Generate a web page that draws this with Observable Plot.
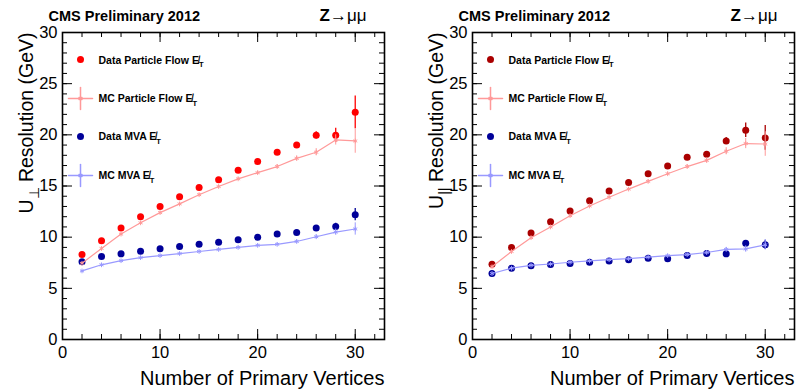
<!DOCTYPE html>
<html><head><meta charset="utf-8">
<script src="https://cdn.jsdelivr.net/npm/d3@7"></script>
<script src="https://cdn.jsdelivr.net/npm/@observablehq/plot@0.6"></script>
<style>
body{margin:0;background:#fff}
#wrap{display:flex;width:797px;height:392px;overflow:hidden}
svg{display:block;overflow:visible}
</style></head>
<body><div id="wrap"></div>
<script>
// ---------------- data ----------------
const nPV = [2,4,6,8,10,12,14,16,18,20,22,24,26,28,30];

// U_perp (left panel)
const dataPF_perp     = [8.3,9.65,10.9,12.0,13.0,13.95,14.85,15.6,16.55,17.4,18.3,19.0,19.95,19.95,22.2];
const dataPF_perp_err = [0.1,0.1,0.1,0.1,0.1,0.1,0.1,0.1,0.12,0.15,0.15,0.2,0.35,0.7,1.6];
const mcPF_perp       = [7.45,8.9,10.3,11.4,12.4,13.25,14.15,14.95,15.7,16.3,16.9,17.7,18.3,19.5,19.4];
const mcPF_perp_err   = [0.1,0.1,0.1,0.1,0.1,0.1,0.1,0.12,0.15,0.15,0.2,0.25,0.35,0.5,1.2];
const dataMVA_perp     = [7.6,8.1,8.37,8.63,8.86,9.09,9.3,9.5,9.74,10.0,10.3,10.46,10.9,11.05,12.2];
const dataMVA_perp_err = [0.05,0.05,0.05,0.05,0.05,0.05,0.05,0.05,0.07,0.08,0.1,0.12,0.15,0.3,0.6];
const mcMVA_perp       = [6.7,7.3,7.7,8.0,8.2,8.4,8.6,8.8,9.0,9.2,9.3,9.58,10.04,10.5,10.8];
const mcMVA_perp_err   = [0.05,0.05,0.05,0.05,0.05,0.05,0.05,0.06,0.08,0.1,0.12,0.15,0.2,0.3,0.6];

// U_par (right panel)
const dataPF_par     = [7.35,9.0,10.4,11.5,12.55,13.55,14.5,15.35,16.2,16.95,17.8,18.1,19.4,20.45,19.7];
const dataPF_par_err = [0.1,0.1,0.1,0.1,0.1,0.1,0.1,0.1,0.12,0.15,0.15,0.2,0.35,0.7,1.2];
const mcPF_par       = [7.1,8.6,9.95,11.0,12.1,13.05,13.9,14.7,15.45,16.2,16.9,17.5,18.4,19.15,19.1];
const mcPF_par_err   = [0.1,0.1,0.1,0.1,0.1,0.1,0.1,0.12,0.15,0.15,0.2,0.25,0.35,0.5,1.2];
const dataMVA_par     = [6.45,6.97,7.2,7.33,7.42,7.55,7.68,7.8,7.94,7.9,8.2,8.4,8.37,9.4,9.25];
const dataMVA_par_err = [0.05,0.05,0.05,0.05,0.05,0.05,0.05,0.05,0.07,0.08,0.1,0.12,0.15,0.25,0.45];
const mcMVA_par       = [6.45,6.97,7.25,7.38,7.55,7.68,7.8,7.9,8.05,8.2,8.3,8.5,8.8,8.85,9.25];
const mcMVA_par_err   = [0.05,0.05,0.05,0.05,0.05,0.05,0.05,0.06,0.08,0.1,0.12,0.15,0.2,0.3,0.5];

// axes / text
const xDomain = [0, 33];
const yDomain = [0, 30];
const xMajor = [0, 10, 20, 30];
const xMinor = [0,2,4,6,8,10,12,14,16,18,20,22,24,26,28,30,32];
const yMajor = [0, 5, 10, 15, 20, 25, 30];
const yMinor = d3.range(0, 31, 1);
const xTitle = "Number of Primary Vertices";
const yTitlePerp = "U_{⊥} Resolution (GeV)";
const yTitlePar = "U_{||} Resolution (GeV)";
const cmsLabel = "CMS Preliminary 2012";
const channelLabel = "#bf{Z}→μμ";
const legendLabels = [
  "Data Particle Flow #slash{E}_{T}",
  "MC Particle Flow #slash{E}_{T}",
  "Data MVA #slash{E}_{T}",
  "MC MVA #slash{E}_{T}"
];

// ---------------- drawing ----------------
const H = 392, MT = 32, MB = 53;
const FONT = "'Liberation Sans', Arial, Helvetica, sans-serif";
const lineShape = {draw(ctx, l) { ctx.moveTo(0, 0); ctx.lineTo(0, -l); }};

function rows(vals, errs) { return nPV.map((n, i) => ({n, v: vals[i], e: errs[i]})); }

function panel(o) {
  const fw = o.width - o.ml - o.mr, fh = H - MT - MB;
  const dPF = rows(o.dPF, o.dPFe), mPF = rows(o.mPF, o.mPFe);
  const dMVA = rows(o.dMVA, o.dMVAe), mMVA = rows(o.mMVA, o.mMVAe);
  const marks = [
    // minor / major ticks on all four sides (inward)
    Plot.tickY(yMinor, {y: d => d, insetRight: fw - 5, stroke: "black"}),
    Plot.tickY(yMinor, {y: d => d, insetLeft: fw - 5, stroke: "black"}),
    Plot.tickY(yMajor, {y: d => d, insetRight: fw - 10, stroke: "black"}),
    Plot.tickY(yMajor, {y: d => d, insetLeft: fw - 10, stroke: "black"}),
    Plot.tickX(xMinor, {x: d => d, insetTop: fh - 5, stroke: "black"}),
    Plot.tickX(xMinor, {x: d => d, insetBottom: fh - 5, stroke: "black"}),
    Plot.tickX(xMajor, {x: d => d, insetTop: fh - 10, stroke: "black"}),
    Plot.tickX(xMajor, {x: d => d, insetBottom: fh - 10, stroke: "black"}),

    // data PF
    Plot.ruleX(dPF, {x: "n", y1: d => d.v - d.e, y2: d => d.v + d.e, stroke: o.pfColor, strokeWidth: 1.3}),
    Plot.dot(dPF, {x: "n", y: "v", r: 3.5, fill: o.pfColor}),
    // data MVA
    Plot.ruleX(dMVA, {x: "n", y1: d => d.v - d.e, y2: d => d.v + d.e, stroke: "#000099", strokeWidth: 1.3}),
    Plot.dot(dMVA, {x: "n", y: "v", r: 3.5, fill: "#000099"}),
    // MC PF
    Plot.line(mPF, {x: "n", y: "v", stroke: "#ff9999", strokeWidth: 1.2}),
    Plot.ruleX(mPF, {x: "n", y1: d => d.v - d.e, y2: d => d.v + d.e, stroke: "#ff9999", strokeWidth: 1}),
    Plot.dot(mPF, {x: "n", y: "v", r: 2.2, symbol: "asterisk", stroke: "#ff9999", strokeWidth: 1}),
    // MC MVA
    Plot.line(mMVA, {x: "n", y: "v", stroke: "#9999ff", strokeWidth: 1.2}),
    Plot.ruleX(mMVA, {x: "n", y1: d => d.v - d.e, y2: d => d.v + d.e, stroke: "#9999ff", strokeWidth: 1}),
    Plot.dot(mMVA, {x: "n", y: "v", r: 2.2, symbol: "asterisk", stroke: "#9999ff", strokeWidth: 1}),

    // legend
    Plot.dot([0], {frameAnchor: "top-left", dx: 18, dy: 27, r: 3.5, fill: o.pfColor}),
    Plot.vector([0], {frameAnchor: "top-left", dx: 18, dy: 66, length: 24, rotate: 90, anchor: "middle", shape: lineShape, stroke: "#ff9999"}),
    Plot.vector([0], {frameAnchor: "top-left", dx: 18, dy: 66, length: 22, rotate: 0, anchor: "middle", shape: lineShape, stroke: "#ff9999"}),
    Plot.dot([0], {frameAnchor: "top-left", dx: 18, dy: 66, r: 2.2, symbol: "asterisk", stroke: "#ff9999"}),
    Plot.dot([0], {frameAnchor: "top-left", dx: 18, dy: 104, r: 3.5, fill: "#000099"}),
    Plot.vector([0], {frameAnchor: "top-left", dx: 18, dy: 143, length: 24, rotate: 90, anchor: "middle", shape: lineShape, stroke: "#9999ff"}),
    Plot.vector([0], {frameAnchor: "top-left", dx: 18, dy: 143, length: 22, rotate: 0, anchor: "middle", shape: lineShape, stroke: "#9999ff"}),
    Plot.dot([0], {frameAnchor: "top-left", dx: 18, dy: 143, r: 2.2, symbol: "asterisk", stroke: "#9999ff"}),
    ...legendLabels.map((t, i) => Plot.text([t], {frameAnchor: "top-left", dx: 36, dy: [28, 66.5, 104.5, 143.5][i], textAnchor: "start", lineAnchor: "middle", fontSize: 10.5, fontWeight: "bold", fill: "black"})),

    // titles
    Plot.text([cmsLabel], {frameAnchor: "top-left", dx: -14, dy: -12, textAnchor: "start", lineAnchor: "bottom", fontSize: 14.5, fontWeight: "bold", fill: "black"}),
    Plot.text([channelLabel], {frameAnchor: "top-right", dx: o.chDx, dy: -12, textAnchor: "end", lineAnchor: "bottom", fontSize: 17, fill: "black"}),
    Plot.text([xTitle], {frameAnchor: "bottom-right", dy: 45, textAnchor: "end", lineAnchor: "bottom", fontSize: 20, fill: "black"}),
    Plot.text([o.yTitle], {frameAnchor: "top-left", dx: -30, rotate: -90, textAnchor: "end", lineAnchor: "bottom", fontSize: 19.5, fill: "black"}),

    Plot.frame({stroke: "black", strokeWidth: 1.6})
  ];
  const svg = Plot.plot({
    width: o.width, height: H,
    marginLeft: o.ml, marginRight: o.mr, marginTop: MT, marginBottom: MB,
    x: {domain: xDomain, ticks: xMajor, tickSize: 0, tickPadding: 7, label: null},
    y: {domain: yDomain, ticks: yMajor, tickSize: 0, tickPadding: 5, label: null},
    style: {fontSize: "16.5px", fontFamily: FONT, color: "black", background: "white"},
    marks
  });
  return svg;
}

// minimal TLatex-like markup: _{sub}, #bf{bold}, #slash{E}
function richText(svg) {
  const NS = "http://www.w3.org/2000/svg";
  svg.querySelectorAll("text").forEach(el => {
    if (el.children.length) return;
    const s = el.textContent;
    if (!/_\{|#bf\{|#slash\{/.test(s)) return;
    const fs = parseFloat(getComputedStyle(el).fontSize) || 16;
    el.textContent = "";
    const add = (txt, attrs) => {
      const t = document.createElementNS(NS, "tspan");
      t.textContent = txt;
      for (const k in attrs) t.setAttribute(k, attrs[k]);
      el.appendChild(t);
    };
    const re = /_\{([^}]*)\}|#bf\{([^}]*)\}|#slash\{([^}]*)\}|([^_#]+|[_#])/g;
    let m, back = 0;
    while ((m = re.exec(s))) {
      if (m[1] != null) {
        add(m[1], {"font-size": fs * 0.72, dy: fs * 0.32});
        back = fs * 0.32;
        continue;
      }
      const extra = back ? {dy: -back} : {};
      back = 0;
      if (m[2] != null) add(m[2], {...extra, "font-weight": "bold"});
      else if (m[3] != null) add(m[3] + "\u0338", extra);
      else add(m[4], extra);
    }
  });
}

const wrap = document.getElementById("wrap");
const left = panel({width: 400, ml: 62, mr: 16, chDx: -18, yTitle: yTitlePerp, pfColor: "#ff0000",
  dPF: dataPF_perp, dPFe: dataPF_perp_err, mPF: mcPF_perp, mPFe: mcPF_perp_err,
  dMVA: dataMVA_perp, dMVAe: dataMVA_perp_err, mMVA: mcMVA_perp, mMVAe: mcMVA_perp_err});
const right = panel({width: 397, ml: 72, mr: 3, chDx: -17, yTitle: yTitlePar, pfColor: "#aa0000",
  dPF: dataPF_par, dPFe: dataPF_par_err, mPF: mcPF_par, mPFe: mcPF_par_err,
  dMVA: dataMVA_par, dMVAe: dataMVA_par_err, mMVA: mcMVA_par, mMVAe: mcMVA_par_err});
wrap.appendChild(left);
wrap.appendChild(right);
richText(left);
richText(right);
</script>
</body></html>
